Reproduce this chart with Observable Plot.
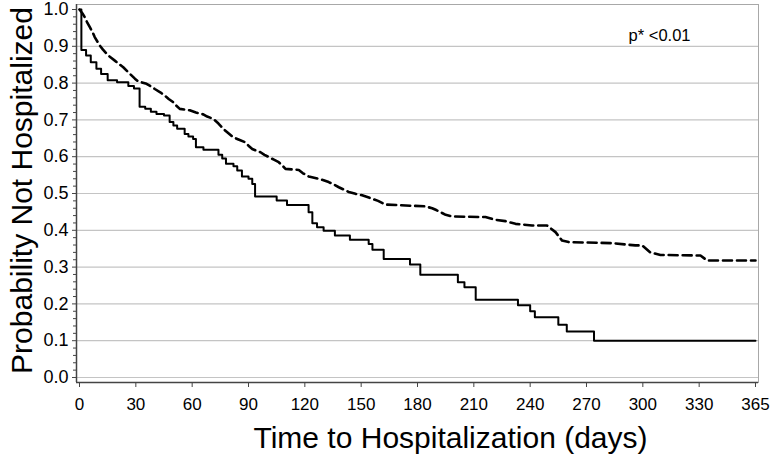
<!DOCTYPE html>
<html><head><meta charset="utf-8">
<script src="https://cdn.jsdelivr.net/npm/d3@7"></script>
<script src="https://cdn.jsdelivr.net/npm/@observablehq/plot@0.6"></script>
<style>body{margin:0;background:#fff;} svg{display:block;}</style>
</head><body><div id="chart"></div>
<script>
// Solid curve (group A): step-after points, day and probability
const groupADays = [0,1,3.5,6,9,11.5,15,20,26,29,32,35,38,41,45,48,50,52,56,58,60.5,62,66,74,76,78,82,84,86.5,90,92,93.5,105,110.5,122,124,126.5,130,136,144,154,156,162,176,181.5,201.5,205,211,233.5,240,242.5,255,259.5,274,360];
const groupAProb = [1.0,0.89,0.875,0.857,0.839,0.825,0.808,0.802,0.792,0.785,0.736,0.730,0.722,0.716,0.712,0.694,0.685,0.676,0.662,0.655,0.648,0.626,0.619,0.605,0.595,0.581,0.574,0.5625,0.546,0.540,0.526,0.492,0.481,0.469,0.449,0.419,0.408,0.399,0.386,0.374,0.363,0.347,0.322,0.307,0.279,0.259,0.245,0.211,0.196,0.18,0.164,0.143,0.125,0.10,0.10];
// Dashed curve (group B): points traced along the drawn path
const groupBDays = [0,1.5,2.8,4,5.5,7,8.1,9.5,10.8,12.5,14.4,16.5,18.8,21,23.3,25.5,27.7,29.5,31.2,35.7,38,40.1,43,45.4,47.5,49.9,51.5,53.4,58.7,62,65.9,68,71.2,74,76.5,79,81.8,85,88.4,90,92,96.4,98.5,100.8,103.5,106.1,108,109.7,116.8,119,122.1,127.4,130,132.7,135.5,138.1,141,143.4,147,150.5,155.8,159,163,184.2,187.8,190,193.1,195,198.4,216.2,219,221.5,226.8,232.2,241,249,253.5,257,260.5,283.6,296,299.6,304,309.4,330.7,334.2,360];
const groupBProb = [1.0,0.99,0.979,0.966,0.952,0.938,0.925,0.913,0.902,0.891,0.880,0.870,0.861,0.852,0.843,0.832,0.821,0.812,0.805,0.798,0.791,0.784,0.775,0.766,0.757,0.748,0.739,0.730,0.726,0.72,0.715,0.709,0.703,0.69,0.676,0.665,0.653,0.646,0.639,0.63,0.621,0.612,0.605,0.599,0.592,0.585,0.576,0.567,0.564,0.555,0.546,0.540,0.536,0.531,0.524,0.517,0.51,0.504,0.499,0.495,0.486,0.48,0.47,0.465,0.46,0.455,0.447,0.442,0.4375,0.436,0.432,0.4285,0.425,0.4175,0.413,0.413,0.395,0.372,0.368,0.365,0.359,0.359,0.340,0.333,0.3315,0.318,0.318];

const xTicks = [0,30,60,90,120,150,180,210,240,270,300,330,360];
const xTickLabels = ["0","30","60","90","120","150","180","210","240","270","300","330","365"];
const yTicks = [0,0.1,0.2,0.3,0.4,0.5,0.6,0.7,0.8,0.9,1.0];
const yGrid = [0,0.1,0.2,0.3,0.4,0.5,0.6,0.7,0.8,0.9];
const yMinor = d3.range(0, 51).map(i => i * 0.02).filter(v => Math.abs(v * 10 - Math.round(v * 10)) > 1e-6);

const xTitle = "Time to Hospitalization (days)";
const yTitle = "Probability Not Hospitalized";
const pText = "p* <0.01";

const rowsA = groupADays.map((d, i) => ({day: d, p: groupAProb[i]}));
const rowsB = groupBDays.map((d, i) => ({day: d, p: groupBProb[i]}));

const X0 = -1.6, X1 = 361.6, Y0 = -0.0136, Y1 = 1.0136;

const chart = Plot.plot({
  width: 770, height: 459,
  marginLeft: 76, marginRight: 12, marginTop: 4, marginBottom: 77,
  style: {fontFamily: "'Liberation Sans', Arial, sans-serif", background: "#fff", color: "#000", overflow: "visible"},
  x: {domain: [X0, X1]},
  y: {domain: [Y0, Y1]},
  marks: [
    Plot.gridY(yGrid, {stroke: "#c4c4c4", strokeOpacity: 1, strokeWidth: 1.2}),
    Plot.frame({stroke: "#a8a8a8"}),
    Plot.axisY(yMinor, {tickSize: 3, tickFormat: () => "", label: null, stroke: "#444"}),
    Plot.axisY(yTicks, {tickSize: 4, tickPadding: 4, fontSize: 18, tickFormat: d => d.toFixed(1), label: null, stroke: "#444"}),
    Plot.axisX(xTicks, {tickSize: 5, tickPadding: 10, fontSize: 17, tickFormat: d => xTickLabels[xTicks.indexOf(d)], label: null, stroke: "#444"}),
    Plot.ruleX([X0], {stroke: "#444", strokeWidth: 1.5}),
    Plot.ruleY([Y0], {stroke: "#444", strokeWidth: 1.5}),
    Plot.line(rowsB, {x: "day", y: "p", curve: "linear", stroke: "#000", strokeWidth: 2.6, strokeDasharray: "9,5"}),
    Plot.line(rowsA, {x: "day", y: "p", curve: "step-after", stroke: "#000", strokeWidth: 2}),
    Plot.text([xTitle], {text: d => d, frameAnchor: "bottom", lineAnchor: "middle", textAnchor: "middle", dx: 33, dy: 56, fontSize: 30, fill: "#000"}),
    Plot.text([yTitle], {text: d => d, frameAnchor: "left", lineAnchor: "middle", textAnchor: "middle", rotate: -90, dx: -54, dy: -3, fontSize: 30, fill: "#000"}),
    Plot.text([pText], {text: d => d, frameAnchor: "top-right", lineAnchor: "middle", textAnchor: "end", dx: -68, dy: 31, fontSize: 16.5, fill: "#000"})
  ]
});
document.getElementById("chart").appendChild(chart);
</script>
</body></html>
